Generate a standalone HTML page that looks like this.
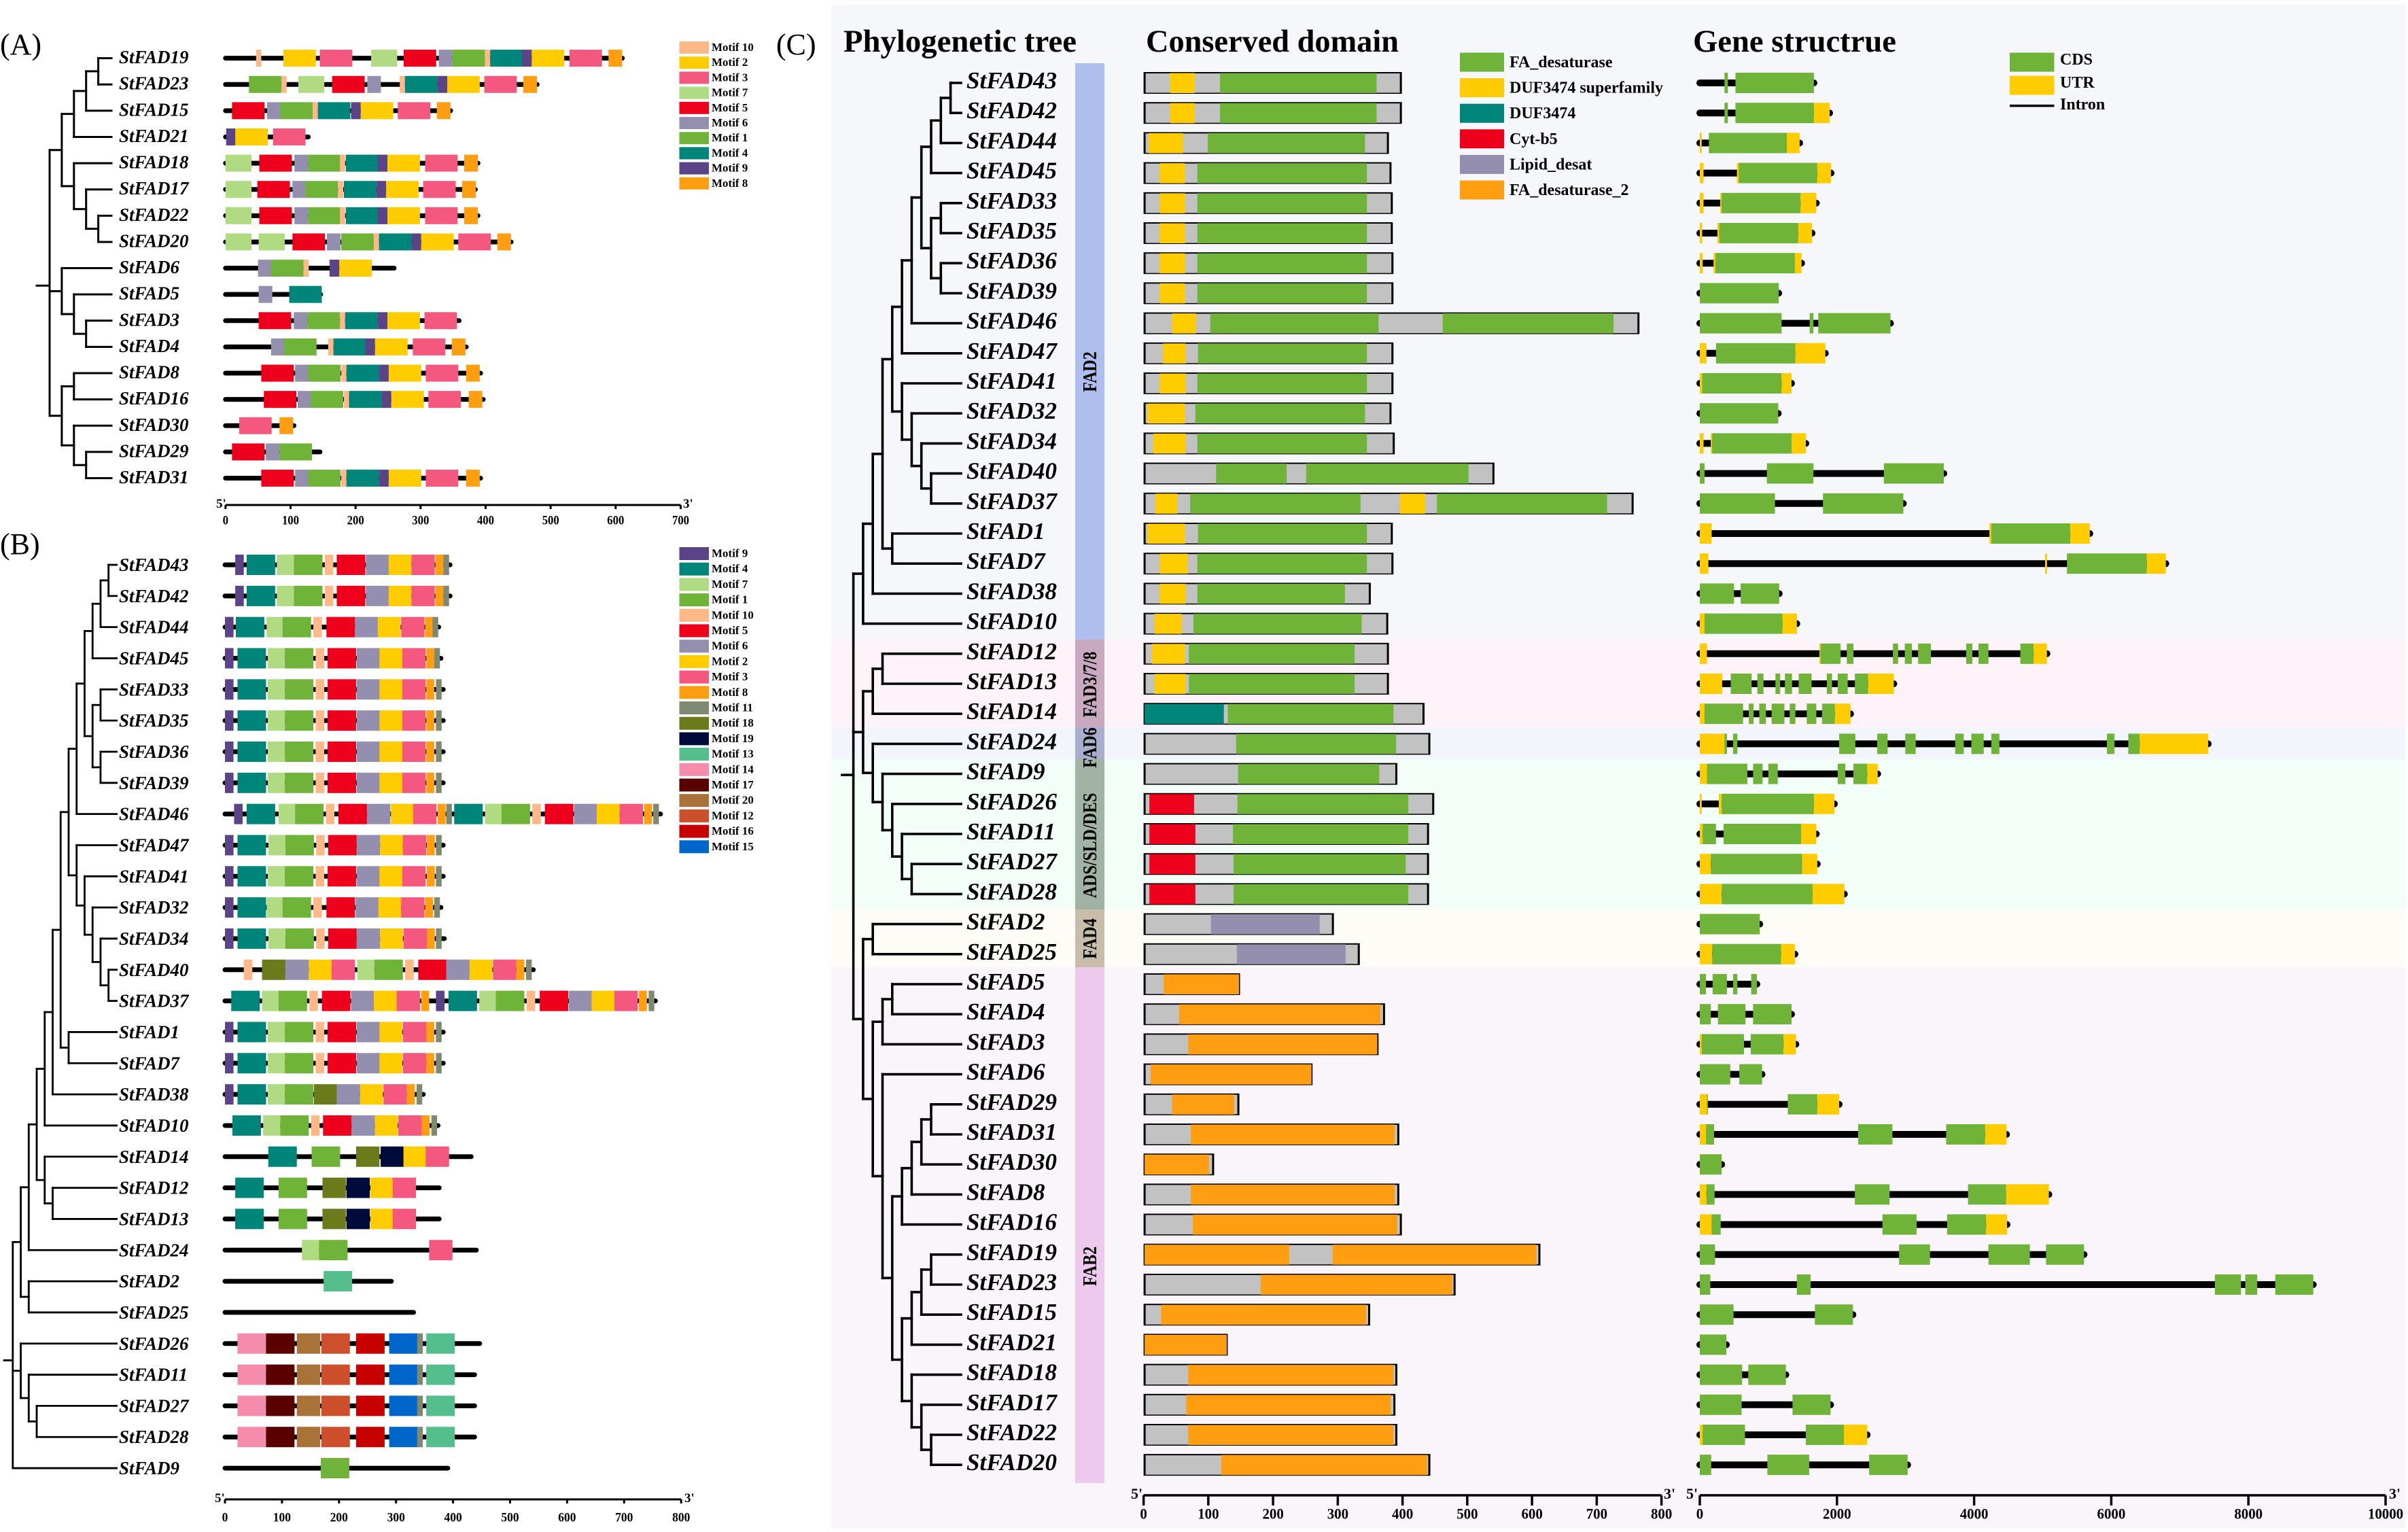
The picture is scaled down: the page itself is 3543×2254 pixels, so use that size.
<!DOCTYPE html>
<html lang="en">
<head>
<meta charset="utf-8">
<title>StFAD phylogeny, motifs, domains and gene structure</title>
<style>
html,body{margin:0;padding:0;background:#fff;}
svg{display:block;}
text{font-family:"Liberation Serif",serif;fill:#000;}
</style>
</head>
<body>
<svg id="figure" xmlns="http://www.w3.org/2000/svg" width="3543" height="2254" viewBox="0 0 3543 2254">
  <rect x="0" y="0" width="3543" height="2254" fill="#ffffff"/>
  <text x="0" y="80" font-size="44">(A)</text>
  <text x="0" y="815" font-size="44">(B)</text>
  <text x="1142" y="80" font-size="44">(C)</text>

  <g>
    <rect x="1223" y="7" width="2316" height="934" fill="#f5f7fb"/>
    <rect x="1223" y="941" width="2316" height="129" fill="#fdf3f9"/>
    <rect x="1223" y="1070" width="2316" height="47" fill="#f3f5fd"/>
    <rect x="1223" y="1117" width="2316" height="221" fill="#f4fef8"/>
    <rect x="1223" y="1338" width="2316" height="85" fill="#fdfcf6"/>
    <rect x="1223" y="1423" width="2316" height="826" fill="#faf4fb"/>
    <rect x="1582" y="93" width="43" height="848" fill="#aebeee"/>
    <rect x="1582" y="941" width="43" height="129" fill="#c9a9bf"/>
    <rect x="1582" y="1070" width="43" height="47" fill="#a9aecd"/>
    <rect x="1582" y="1117" width="43" height="221" fill="#a0b3a5"/>
    <rect x="1582" y="1338" width="43" height="85" fill="#c7bda8"/>
    <rect x="1582" y="1423" width="43" height="759" fill="#edc9ed"/>
    <text transform="translate(1613,547) rotate(-90) scale(1,1.2)" text-anchor="middle" font-size="24" font-weight="bold">FAD2</text>
    <text transform="translate(1613,1007) rotate(-90) scale(1,1.2)" text-anchor="middle" font-size="24" font-weight="bold">FAD3/7/8</text>
    <text transform="translate(1613,1100) rotate(-90) scale(1,1.2)" text-anchor="middle" font-size="24" font-weight="bold">FAD6</text>
    <text transform="translate(1613,1244) rotate(-90) scale(1,1.2)" text-anchor="middle" font-size="24" font-weight="bold">ADS/SLD/DES</text>
    <text transform="translate(1613,1381) rotate(-90) scale(1,1.2)" text-anchor="middle" font-size="24" font-weight="bold">FAD4</text>
    <text transform="translate(1613,1863) rotate(-90) scale(1,1.2)" text-anchor="middle" font-size="24" font-weight="bold">FAB2</text>
  </g>
  <text x="1241" y="76" font-size="47" font-weight="bold" textLength="343" lengthAdjust="spacingAndGlyphs">Phylogenetic tree</text>
  <text x="1686" y="76" font-size="47" font-weight="bold" textLength="372" lengthAdjust="spacingAndGlyphs">Conserved domain</text>
  <text x="2491" y="76" font-size="47" font-weight="bold" textLength="299" lengthAdjust="spacingAndGlyphs">Gene structrue</text>
</svg>
<script>
/* ---------- Motif labels and lengths (amino acids) ---------- */
const motifColors = [null,'#70b339','#ffcc00','#f5587f','#00857a','#ee001c','#948faf','#b1db82','#ff9e10','#5a4387','#ffb888','#7f8870','#ce4f2b','#54bf8d','#f68cab','#0066cc','#c70000','#5a0000','#6b7b1c','#000b3c','#a87238'];
const motifLengthsA = [0,50,50,50,50,50,21,40,21,15,8];
const motifLengthsB = [0,50,40,41,50,50,41,30,14,15,15,10,50,50,50,50,50,50,41,41,41];
const legendOrderA = [10,2,3,7,5,6,1,4,9,8];
const legendOrderB = [9,4,7,1,10,5,6,2,3,8,11,18,19,13,14,17,20,12,16,15];

/* ---------- Panel A ---------- */
const panelATicks = [0,100,200,300,400,500,600,700];
const panelATree = [[[[['StFAD19','StFAD23'],'StFAD15'],'StFAD21'],['StFAD18',['StFAD17',['StFAD22','StFAD20']]]],['StFAD6',['StFAD5',['StFAD3','StFAD4']]],[['StFAD8','StFAD16'],['StFAD30',['StFAD29','StFAD31']]]];
const panelANames = ['StFAD19','StFAD23','StFAD15','StFAD21','StFAD18','StFAD17','StFAD22','StFAD20','StFAD6','StFAD5','StFAD3','StFAD4','StFAD8','StFAD16','StFAD30','StFAD29','StFAD31'];
const panelALengths = [614,483,350,131,392,388,392,443,263,150,363,374,396,400,109,149,396];
const panelAMotifs = [
 [[10,47],[2,89],[3,145],[7,224],[5,274],[6,328],[1,349],[10,399],[4,407],[9,456],[2,471],[3,529],[8,589]],
 [[1,36],[10,86],[7,112],[5,164],[6,218],[10,268],[4,276],[9,326],[2,341],[3,398],[8,458]],
 [[5,10],[6,64],[1,84],[10,134],[4,142],[9,193],[2,208],[3,265],[8,325]],
 [[9,1],[2,15],[3,73]],
 [[7,0],[5,52],[6,106],[1,127],[10,176],[4,185],[9,234],[2,249],[3,307],[8,367]],
 [[7,0],[5,49],[6,103],[1,123],[10,173],[4,182],[9,232],[2,247],[3,304],[8,364]],
 [[7,0],[5,52],[6,106],[1,127],[10,176],[4,185],[9,234],[2,249],[3,307],[8,367]],
 [[7,0],[7,51],[5,103],[6,156],[1,178],[10,228],[4,236],[9,286],[2,301],[3,358],[8,418]],
 [[6,50],[1,70],[10,120],[9,160],[2,175]],
 [[6,51],[4,98]],
 [[5,51],[6,105],[1,126],[10,176],[4,184],[9,234],[2,249],[3,306]],
 [[6,70],[1,90],[10,158],[4,166],[9,215],[2,230],[3,288],[8,348]],
 [[5,55],[6,107],[1,127],[10,178],[4,186],[9,236],[2,251],[3,308],[8,370]],
 [[5,59],[6,111],[1,131],[10,182],[4,190],[9,240],[2,255],[3,312],[8,374]],
 [[3,21],[8,83]],
 [[5,10],[6,62],[1,83]],
 [[5,55],[6,107],[1,127],[10,178],[4,186],[9,236],[2,251],[3,308],[8,370]]
];

/* ---------- Panel B ---------- */
const panelBTicks = [0,100,200,300,400,500,600,700,800];
const panelBTree = [[[[[[[[[[[[['StFAD43','StFAD42'],'StFAD44'],'StFAD45'],[['StFAD33','StFAD35'],['StFAD36','StFAD39']]],'StFAD46'],['StFAD47',['StFAD41',['StFAD32',['StFAD34',['StFAD40','StFAD37']]]]]],['StFAD1','StFAD7']],'StFAD38'],'StFAD10'],['StFAD14',['StFAD12','StFAD13']]],'StFAD24'],['StFAD2','StFAD25']],['StFAD26',['StFAD11',['StFAD27','StFAD28']]],'StFAD9'];
const panelBNames = ['StFAD43','StFAD42','StFAD44','StFAD45','StFAD33','StFAD35','StFAD36','StFAD39','StFAD46','StFAD47','StFAD41','StFAD32','StFAD34','StFAD40','StFAD37','StFAD1','StFAD7','StFAD38','StFAD10','StFAD14','StFAD12','StFAD13','StFAD24','StFAD2','StFAD25','StFAD26','StFAD11','StFAD27','StFAD28','StFAD9'];
const panelBLengths = [399,399,379,383,387,387,387,387,768,387,387,383,389,545,759,387,387,352,378,436,380,380,445,296,335,451,442,442,442,395];
const panelBMotifs = [
 [[9,18],[4,38],[7,91],[1,121],[10,175],[5,196],[6,247],[2,287],[3,327],[8,369],[11,383]],
 [[9,18],[4,38],[7,91],[1,121],[10,175],[5,196],[6,247],[2,287],[3,327],[8,369],[11,383]],
 [[9,0],[4,19],[7,73],[1,101],[10,155],[5,178],[6,228],[2,268],[3,309],[8,351],[11,364]],
 [[9,0],[4,22],[7,75],[1,105],[10,159],[5,180],[6,231],[2,271],[3,311],[8,353],[11,367]],
 [[9,0],[4,22],[7,75],[1,105],[10,159],[5,180],[6,231],[2,271],[3,311],[8,353],[11,370]],
 [[9,0],[4,22],[7,75],[1,105],[10,159],[5,180],[6,231],[2,271],[3,311],[8,353],[11,370]],
 [[9,0],[4,22],[7,75],[1,105],[10,159],[5,180],[6,231],[2,271],[3,311],[8,353],[11,370]],
 [[9,0],[4,22],[7,75],[1,105],[10,159],[5,180],[6,231],[2,271],[3,311],[8,353],[11,370]],
 [[9,16],[4,38],[7,94],[1,123],[10,177],[5,199],[6,249],[2,291],[3,330],[8,373],[11,388],[4,402],[7,456],[1,485],[10,539],[5,561],[6,612],[2,652],[3,692],[8,735],[11,751]],
 [[9,0],[4,22],[7,76],[1,106],[10,160],[5,181],[6,231],[2,272],[3,312],[8,354],[11,370]],
 [[9,0],[4,22],[7,75],[1,105],[10,159],[5,180],[6,231],[2,271],[3,311],[8,354],[11,370]],
 [[9,0],[4,22],[7,73],[1,101],[10,155],[5,178],[6,229],[2,269],[3,309],[8,351],[11,367]],
 [[9,0],[4,22],[7,76],[1,106],[10,160],[5,181],[6,231],[2,272],[3,313],[8,354],[11,370]],
 [[10,33],[18,65],[6,106],[2,147],[3,187],[7,232],[1,262],[10,316],[5,339],[6,388],[2,429],[3,470],[8,511],[11,528]],
 [[4,11],[7,65],[1,94],[10,148],[5,170],[6,221],[2,261],[3,301],[8,344],[9,370],[4,392],[7,446],[1,475],[10,529],[5,552],[6,603],[2,643],[3,683],[8,726],[11,743]],
 [[9,0],[4,22],[7,75],[1,105],[10,159],[5,180],[6,231],[2,271],[3,312],[8,353],[11,370]],
 [[9,0],[4,22],[7,75],[1,105],[10,159],[5,180],[6,231],[2,271],[3,312],[8,353],[11,370]],
 [[9,0],[4,22],[7,75],[1,105],[18,156],[6,196],[2,237],[3,278],[8,319],[11,336]],
 [[4,13],[7,67],[1,97],[10,151],[5,172],[6,222],[2,263],[3,304],[8,345],[11,362]],
 [[4,76],[1,152],[18,230],[19,273],[2,313],[3,352]],
 [[4,18],[1,94],[18,171],[19,213],[2,255],[3,294]],
 [[4,18],[1,94],[18,171],[19,213],[2,255],[3,294]],
 [[7,135],[1,165],[3,358]],
 [[13,173]],
 [],
 [[14,22],[17,72],[20,126],[12,169],[16,230],[15,288],[11,337],[13,353]],
 [[14,22],[17,72],[20,126],[12,169],[16,230],[15,288],[11,337],[13,353]],
 [[14,22],[17,72],[20,126],[12,169],[16,230],[15,288],[11,337],[13,353]],
 [[14,22],[17,72],[20,126],[12,169],[16,230],[15,288],[11,337],[13,353]],
 [[1,168]]
];

/* ---------- Panel C: tree, domains, gene structure ---------- */
const panelCTree = [
 [[[[[[[[[['StFAD43','StFAD42'],'StFAD44'],'StFAD45'],[['StFAD33','StFAD35'],['StFAD36','StFAD39']]],'StFAD46'],'StFAD47'],['StFAD41',['StFAD32',['StFAD34',['StFAD40','StFAD37']]]]],['StFAD1','StFAD7']],'StFAD38'],'StFAD10'],
 [[['StFAD12','StFAD13'],'StFAD14'],['StFAD24',['StFAD9',['StFAD26',['StFAD11',['StFAD27','StFAD28']]]]]],
 [['StFAD2','StFAD25'],[[['StFAD5','StFAD4'],'StFAD3'],['StFAD6',[[[[['StFAD29','StFAD31'],'StFAD30'],'StFAD8'],'StFAD16'],[[[['StFAD19','StFAD23'],'StFAD15'],'StFAD21'],['StFAD18',['StFAD17',['StFAD22','StFAD20']]]]]]]]
];
const panelCNames = ['StFAD43','StFAD42','StFAD44','StFAD45','StFAD33','StFAD35','StFAD36','StFAD39','StFAD46','StFAD47','StFAD41','StFAD32','StFAD34','StFAD40','StFAD37','StFAD1','StFAD7','StFAD38','StFAD10','StFAD12','StFAD13','StFAD14','StFAD24','StFAD9','StFAD26','StFAD11','StFAD27','StFAD28','StFAD2','StFAD25','StFAD5','StFAD4','StFAD3','StFAD6','StFAD29','StFAD31','StFAD30','StFAD8','StFAD16','StFAD19','StFAD23','StFAD15','StFAD21','StFAD18','StFAD17','StFAD22','StFAD20'];
const domainTicks = [0,100,200,300,400,500,600,700,800];
const domainNames = ['FA_desaturase','DUF3474 superfamily','DUF3474','Cyt-b5','Lipid_desat','FA_desaturase_2'];
const domainColors = ['#70b339','#ffcc00','#00857a','#ee001c','#948faf','#ff9e10'];
const domainLengths = [399,399,379,383,385,385,386,386,766,386,386,383,388,542,757,385,386,351,378,379,379,434,443,392,449,441,441,441,294,334,149,373,363,261,148,395,109,395,399,613,482,350,130,392,389,392,443];
const domainRegions = [
 [[1,41,79],[0,118,360]],[[1,41,79],[0,118,360]],[[1,8,61],[0,99,342]],[[1,25,64],[0,83,345]],
 [[1,25,64],[0,83,345]],[[1,25,64],[0,83,345]],[[1,25,64],[0,83,345]],[[1,25,64],[0,83,345]],
 [[1,44,81],[0,103,363],[0,462,726]],[[1,30,65],[0,84,345]],[[1,25,65],[0,83,345]],[[1,6,64],[0,80,342]],
 [[1,15,65],[0,83,345]],[[0,112,221],[0,251,502]],[[1,18,52],[0,72,335],[1,396,435],[0,453,716]],
 [[1,6,64],[0,84,345]],[[1,25,68],[0,83,345]],[[1,25,65],[0,83,311]],[[1,17,59],[0,77,337]],
 [[1,13,64],[0,70,326]],[[1,17,65],[0,70,326]],[[2,0,124],[0,130,386]],[[0,143,390]],[[0,146,364]],
 [[3,9,78],[0,145,409]],[[3,9,80],[0,138,409]],[[3,9,80],[0,139,405]],[[3,9,80],[0,139,409]],
 [[4,104,272]],[[4,144,312]],[[5,31,149]],[[5,55,366]],[[5,69,361]],[[5,11,261]],[[5,44,140]],
 [[5,73,388]],[[5,0,101]],[[5,73,388]],[[5,76,392]],[[5,0,225],[5,292,607]],[[5,181,477]],
 [[5,27,344]],[[5,0,130]],[[5,69,386]],[[5,66,382]],[[5,69,386]],[[5,120,438]]
];
const geneTicks = [0,2000,4000,6000,8000,10000];
/* exon type: 0 = CDS, 1 = UTR; start and end in bp */
const geneExons = [
 [[0,360,409],[0,520,1664]],
 [[0,360,409],[0,520,1664],[1,1664,1893]],
 [[1,0,28],[0,132,1269],[1,1269,1456]],
 [[1,0,55],[1,541,569],[0,569,1713],[1,1713,1914]],
 [[1,0,55],[1,298,319],[0,319,1470],[1,1470,1699]],
 [[1,0,35],[1,257,284],[0,284,1436],[1,1436,1637]],
 [[1,0,42],[1,201,229],[0,229,1387],[1,1387,1484]],
 [[0,0,1151]],
 [[0,0,1193],[0,1602,1657],[0,1727,2781]],
 [[1,0,97],[0,236,1394],[1,1394,1831]],
 [[1,0,35],[0,35,1193],[1,1193,1338]],
 [[0,0,1144]],
 [[1,0,55],[1,160,180],[0,180,1338],[1,1338,1546]],
 [[0,0,69],[0,978,1657],[0,2684,3558]],
 [[0,0,1096],[0,1796,2968]],
 [[1,0,173],[1,4223,4251],[0,4251,5402],[1,5402,5687]],
 [[1,0,125],[1,5035,5063],[0,5354,6519],[1,6519,6796]],
 [[0,0,499],[0,596,1158]],
 [[1,0,69],[0,69,1207],[1,1207,1415]],
 [[1,0,104],[1,1745,1761],[0,1761,2053],[0,2143,2240],[0,2816,2892],[0,2989,3093],[0,3183,3370],[0,3884,3974],[0,4064,4209],[0,4674,4868],[1,4868,5062]],
 [[1,0,326],[0,451,756],[0,839,929],[0,1103,1172],[0,1241,1345],[0,1442,1630],[0,1852,1928],[0,2011,2157],[0,2261,2455],[1,2455,2829]],
 [[1,0,69],[0,69,631],[0,714,784],[0,867,964],[0,1047,1234],[0,1311,1394],[0,1560,1699],[0,1782,1970],[1,1970,2198]],
 [[1,0,361],[0,361,395],[0,485,548],[0,2032,2268],[0,2587,2739],[0,2996,3148],[0,3724,3849],[0,3960,4140],[0,4251,4369],[0,5936,6047],[0,6248,6415],[1,6415,7413]],
 [[1,0,104],[0,104,693],[0,777,915],[0,999,1137],[0,2011,2122],[0,2240,2441],[1,2441,2594]],
 [[1,0,28],[1,277,319],[0,319,1664],[1,1664,1963]],
 [[1,0,42],[0,42,236],[0,347,1477],[1,1477,1699]],
 [[1,0,160],[0,160,1491],[1,1491,1713]],
 [[1,0,319],[0,319,1644],[1,1644,2108]],
 [[0,0,874]],
 [[1,0,180],[0,180,1186],[1,1186,1387]],
 [[0,0,90],[0,187,395],[0,485,548],[0,749,832]],
 [[0,0,160],[0,264,666],[0,777,1338]],
 [[1,0,28],[0,28,645],[0,742,1221],[1,1221,1401]],
 [[0,0,444],[0,576,908]],
 [[1,0,104],[0,104,118],[0,1283,1713],[1,1713,2032]],
 [[1,0,90],[0,90,208],[0,2309,2809],[0,3592,4161],[1,4161,4473]],
 [[0,0,319]],
 [[1,0,97],[0,97,215],[0,2261,2767],[0,3911,4466],[1,4466,5090]],
 [[1,0,173],[0,173,305],[0,2663,3162],[0,3606,4175],[1,4175,4480]],
 [[0,0,222],[0,2906,3357],[0,4209,4813],[0,5049,5603]],
 [[0,0,153],[0,1415,1616],[0,7511,7892],[0,7954,8128],[0,8391,8946]],
 [[0,0,492],[0,1678,2233]],
 [[0,0,388]],
 [[0,0,617],[0,707,1255]],
 [[0,0,610],[0,1352,1907]],
 [[1,0,42],[0,42,659],[0,1546,2101],[1,2101,2441]],
 [[0,0,166],[0,985,1595],[0,2469,3031]]
];
const geneLegendNames = ['CDS','UTR'];
const geneLegendColors = ['#70b339','#ffcc00'];

/* ---------- Helpers ---------- */
const NS = 'http://www.w3.org/2000/svg';
const root = document.getElementById('figure');
function make(parent, tag, attrs) {
  const el = document.createElementNS(NS, tag);
  for (const k in attrs) el.setAttribute(k, attrs[k]);
  parent.appendChild(el);
  return el;
}
function scaleLinear(x0, perUnit) { return v => x0 + v * perUnit; }
function rowScale(y0, step) { return i => y0 + i * step; }

function drawTree(parent, tree, names, rowY, x0, step, tipX, stubX, width, stubShift) {
  const depthX = d => x0 + d * step;
  function branch(d) {
    const p = make(parent, 'path', {d: d, fill: 'none', stroke: '#000', 'stroke-width': width, 'stroke-linecap': 'square'});
    
    
  }
  function layout(node, depth) {
    if (typeof node === 'string') return {y: rowY(names.indexOf(node)), x: tipX};
    const kids = node.map(n => layout(n, depth + 1));
    const x = depthX(depth);
    const first = kids[0].y, last = kids[kids.length - 1].y;
    branch('M' + x + ' ' + first + 'V' + last);
    kids.forEach(k => {
      branch('M' + x + ' ' + k.y + 'H' + k.x);
    });
    const y = depth === 0 ? kids.reduce((s, k) => s + k.y, 0) / kids.length : (first + last) / 2;
    return {y: y, x: x};
  }
  const r = layout(tree, 0);
  branch('M' + stubX + ' ' + (r.y + stubShift) + 'H' + depthX(0));
}

function drawAxis(parent, xs, ticks, y, tickLen, labelY, fontSize, squeeze, x5, x3, primeY, lineW) {
  const axis = make(parent, 'line', {x1: xs(ticks[0]), x2: xs(ticks[ticks.length - 1]), y1: y, y2: y, stroke: '#000', 'stroke-width': lineW});
  
  
  ticks.forEach(t => {
    const tick = make(parent, 'line', {x1: xs(t), x2: xs(t), y1: y, y2: y + tickLen, stroke: '#000', 'stroke-width': lineW});
    
    
    const lab = make(parent, 'text', {transform: 'translate(' + xs(t) + ',' + labelY + ') scale(' + squeeze + ',1)', 'text-anchor': 'middle', 'font-size': fontSize, 'font-weight': 'bold'});
    lab.textContent = String(t);
    
    
  });
  const five = make(parent, 'text', {x: x5, y: primeY, 'font-size': fontSize, 'font-weight': 'bold'});
  five.textContent = "5'";
  
  
  const three = make(parent, 'text', {x: x3, y: primeY, 'font-size': fontSize, 'font-weight': 'bold'});
  three.textContent = "3'";
  
  
}

function drawLabels(parent, names, rowY, x, size, dy) {
  names.forEach((n, i) => {
    const t = make(parent, 'text', {x: x, y: rowY(i) + dy, 'font-size': size, 'font-weight': 'bold', 'font-style': 'italic'});
    t.textContent = n;
    
    
  });
}

function drawMotifRows(parent, lengths, motifs, widths, xs, rowY, blockH, lineW) {
  lengths.forEach((len, i) => {
    const line = make(parent, 'line', {x1: xs(0), x2: xs(len) - lineW / 2, y1: rowY(i), y2: rowY(i), stroke: '#000', 'stroke-width': lineW, 'stroke-linecap': 'round'});
    
    
    motifs[i].forEach(m => {
      const block = make(parent, 'rect', {x: xs(m[1]), y: rowY(i) - blockH / 2, width: xs(m[1] + widths[m[0]]) - xs(m[1]), height: blockH, fill: motifColors[m[0]]});
      
      
    });
  });
}

function drawMotifLegend(parent, order, y0, step, h) {
  order.forEach((id, i) => {
    const sw = make(parent, 'rect', {x: 999.5, y: y0 + i * step - h / 2, width: 43.5, height: h, fill: motifColors[id]});
    
    
    const t = make(parent, 'text', {x: 1047, y: y0 + i * step + 5, 'font-size': 17, 'font-weight': 'bold'});
    t.textContent = 'Motif ' + id;
    
    
  });
}

/* ---------- Panel A ---------- */
const gA = make(root, 'g', {});


const xA = scaleLinear(331.8, 0.9567);
const yA = rowScale(85.6, 38.62);
drawTree(gA, panelATree, panelANames, yA, 73, 17.9, 164, 54, 3, 0);
drawLabels(gA, panelANames, yA, 175, 27, 7.5);
drawMotifRows(gA, panelALengths, panelAMotifs, motifLengthsA, xA, yA, 25, 7);
drawAxis(gA, xA, panelATicks, 743, 6, 771.5, 19, 0.88, 318, 1005, 747, 3);
drawMotifLegend(gA, legendOrderA, 70, 22.2, 18);

/* ---------- Panel B ---------- */
const gB = make(root, 'g', {});


const xB = scaleLinear(331, 0.839);
const yB = rowScale(831, 45.83);
drawTree(gB, panelBTree, panelBNames, yB, 18.8, 11.74, 171.6, 6, 2.8, 0);
drawLabels(gB, panelBNames, yB, 175, 27, 9);
drawMotifRows(gB, panelBLengths, panelBMotifs, motifLengthsB, xB, yB, 30, 7);
drawAxis(gB, xB, panelBTicks, 2206, 6, 2238.5, 19, 0.92, 316, 1007, 2210, 3);
drawMotifLegend(gB, legendOrderB, 814.5, 22.7, 19);

/* ---------- Panel C ---------- */
const gC = make(root, 'g', {});


const yC = rowScale(122, 44.2);
const xDomain = scaleLinear(1682.6, 0.9525);
const xGene = scaleLinear(2501, 0.1009);
drawTree(gC, panelCTree, panelCNames, yC, 1255.6, 14.3, 1414, 1239, 3.6, 0);
drawLabels(gC, panelCNames, yC, 1422, 35, 8);

domainLengths.forEach((len, i) => {
  const frame = make(gC, 'rect', {x: xDomain(0), y: yC(i) - 16, width: xDomain(len) - xDomain(0), height: 32, fill: '#000'});
  
  
  const bar = make(gC, 'rect', {x: xDomain(0) + 3, y: yC(i) - 14, width: xDomain(len) - xDomain(0) - 6, height: 28.5, fill: '#c2c2c2'});
  
  
  domainRegions[i].forEach(d => {
    const left = Math.max(xDomain(d[1]), xDomain(0) + 1.5);
    const right = Math.min(xDomain(d[2]), xDomain(len) - 1.5);
    const region = make(gC, 'rect', {x: left, y: yC(i) - 14.5, width: right - left, height: 29.5, fill: domainColors[d[0]]});
    
    
  });
});
drawAxis(gC, xDomain, domainTicks, 2200, 15, 2234.5, 22, 0.95, 1664, 2448, 2205, 3.5);

domainNames.forEach((n, i) => {
  const sw = make(gC, 'rect', {x: 2148, y: 77.5 + i * 37.6, width: 65, height: 28, fill: domainColors[i]});
  
  
  const t = make(gC, 'text', {x: 2221, y: 99 + i * 37.6, 'font-size': 24, 'font-weight': 'bold'});
  t.textContent = n;
  
  
});

geneExons.forEach((exons, i) => {
  const end = exons[exons.length - 1][2];
  const intron = make(gC, 'line', {x1: xGene(0), x2: xGene(end), y1: yC(i), y2: yC(i), stroke: '#000', 'stroke-width': 10, 'stroke-linecap': 'round'});
  
  
  exons.forEach(e => {
    const exon = make(gC, 'rect', {x: xGene(e[1]), y: yC(i) - 15, width: xGene(e[2]) - xGene(e[1]), height: 30, fill: geneLegendColors[e[0]]});
    
    
  });
});
drawAxis(gC, xGene, geneTicks, 2200, 15, 2234.5, 22, 0.95, 2481, 3515, 2205, 3.5);

geneLegendNames.forEach((n, i) => {
  const sw = make(gC, 'rect', {x: 2957, y: 77.5 + i * 34, width: 65.5, height: 28, fill: geneLegendColors[i]});
  
  
  const t = make(gC, 'text', {x: 3031, y: 95 + i * 34, 'font-size': 24, 'font-weight': 'bold'});
  t.textContent = n;
  
  
});
const intronKey = make(gC, 'line', {x1: 2957, x2: 3022.5, y1: 155.6, y2: 155.6, stroke: '#000', 'stroke-width': 3.5});


const intronText = make(gC, 'text', {x: 3031, y: 161, 'font-size': 24, 'font-weight': 'bold'});
intronText.textContent = 'Intron';


</script>
</body>
</html>
